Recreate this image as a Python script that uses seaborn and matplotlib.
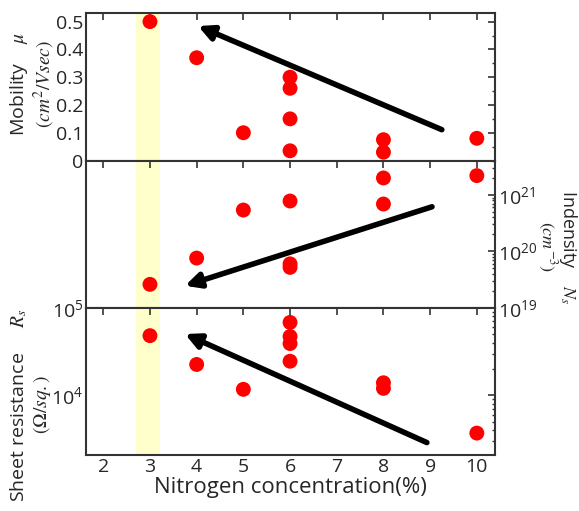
import numpy as np
import pandas as pd
import matplotlib
matplotlib.use("Agg")
import matplotlib.pyplot as plt
import matplotlib.ticker as mticker
import seaborn as sns

# ---- data ----
x_mob = [3, 4, 5, 6, 6, 6, 6, 8, 8, 10]
mobility = [0.50, 0.37, 0.10, 0.30, 0.26, 0.15, 0.035, 0.075, 0.03, 0.08]

x_ns = [3, 4, 5, 6, 6, 6, 8, 8, 10]
density = [2.6e19, 7.6e19, 5.4e20, 7.8e20, 6.0e19, 5.2e19, 2.0e21, 6.9e20, 2.2e21]

x_rs = [3, 4, 5, 6, 6, 6, 6, 8, 8, 10]
sheet_res = [4.8e4, 2.25e4, 1.17e4, 6.8e4, 4.7e4, 3.9e4, 2.45e4, 1.39e4, 1.2e4, 3.7e3]

x_ticks = [2, 3, 4, 5, 6, 7, 8, 9, 10]
mob_ticks = [0, 0.1, 0.2, 0.3, 0.4, 0.5]
mob_tick_labels = ["0", "0.1", "0.2", "0.3", "0.4", "0.5"]

# arrows: (start x, start y) -> (tip x, tip y)
arrow_mob = ((9.25, 0.111), (4.03, 0.484))
arrow_ns = ((9.04, 10**20.79), (3.75, 10**19.39))
arrow_rs = ((8.93, 10**3.46), (3.75, 10**4.70))

highlight = (2.7, 3.21)

# ---- style ----
sns.set_theme(style="white")
plt.rcParams["font.family"] = ["Open Sans", "DejaVu Sans"]
plt.rcParams["mathtext.fontset"] = "stix"
spine_c = "#333333"

fig, axes = plt.subplots(3, 1, figsize=(5.79, 5.11), dpi=100, sharex=True,
                         gridspec_kw=dict(hspace=0))
fig.subplots_adjust(left=0.1485, right=0.855, bottom=0.1096, top=0.974)
ax1, ax2, ax3 = axes

df1 = pd.DataFrame({"x": x_mob, "y": mobility})
df2 = pd.DataFrame({"x": x_ns, "y": density})
df3 = pd.DataFrame({"x": x_rs, "y": sheet_res})

for ax, df in zip(axes, [df1, df2, df3]):
    ax.axvspan(*highlight, color="#ffffcc", zorder=0, lw=0)
    sns.scatterplot(data=df, x="x", y="y", ax=ax, color="red", s=115,
                    edgecolor="none", zorder=3, legend=False)
    ax.set_xlabel("")
    ax.set_ylabel("")
    for sp in ax.spines.values():
        sp.set_color(spine_c)
        sp.set_linewidth(1.5)
    ax.set_xlim(1.63, 10.39)
    ax.set_xticks(x_ticks)
    ax.tick_params(axis="both", which="major", direction="in", length=5,
                   width=1.2, color=spine_c, labelsize=14, top=True, right=True,
                   pad=2)
    ax.tick_params(axis="both", which="minor", direction="in", length=2.5,
                   width=1.0, color=spine_c, top=False, right=True)

label_fs = 14

# top panel
ax1.set_ylim(0, 0.53)
ax1.set_yticks(mob_ticks)
ax1.set_yticklabels(mob_tick_labels)
ax1.yaxis.set_minor_locator(mticker.MultipleLocator(0.05))
ax1.set_ylabel("Mobility    $\\mu$\n$(cm^2/Vsec)$", fontsize=label_fs,
               linespacing=1.15)
ax1.yaxis.set_label_coords(-0.07, 0.52)

# middle panel
ax2.set_yscale("log")
ax2.set_ylim(1e19, 10**21.61)
ax2.yaxis.set_major_locator(mticker.LogLocator(base=10, numticks=10))
ax2.yaxis.set_minor_locator(mticker.LogLocator(base=10, subs=np.arange(2, 10), numticks=10))
ax2.yaxis.set_minor_formatter(mticker.NullFormatter())
ax2.yaxis.tick_right()
ax2.yaxis.set_label_position("right")
ax2.tick_params(axis="y", which="both", left=False, right=True, labelleft=False,
                labelright=True)
ax2.set_ylabel("Indensity    $N_s$\n$(cm^{-3})$", fontsize=13, rotation=270,
               linespacing=0.95)
ax2.yaxis.label.set_verticalalignment("bottom")
ax2.yaxis.set_label_coords(1.1, 0.415)

# bottom panel
ax3.set_yscale("log")
ax3.set_ylim(2080, 1e5)
ax3.yaxis.set_major_locator(mticker.LogLocator(base=10, numticks=10))
ax3.yaxis.set_minor_locator(mticker.LogLocator(base=10, subs=np.arange(2, 10), numticks=10))
ax3.yaxis.set_minor_formatter(mticker.NullFormatter())
ax3.set_ylabel("Sheet resistance     $R_s$\n$(\\Omega/sq.)$", fontsize=label_fs,
               linespacing=1.15)
ax3.yaxis.set_label_coords(-0.08, 0.34)
ax3.set_xlabel("Nitrogen concentration(%)", fontsize=16, labelpad=1)

for ax in (ax1, ax2):
    ax.tick_params(axis="x", labelbottom=False)

# arrows
for ax, (start, tip) in zip(axes, [arrow_mob, arrow_ns, arrow_rs]):
    ax.annotate("", xy=tip, xytext=start,
                arrowprops=dict(arrowstyle="-|>", lw=4, color="black",
                                mutation_scale=22, shrinkA=0, shrinkB=0),
                zorder=4)

fig.savefig("out.png", dpi=100)
